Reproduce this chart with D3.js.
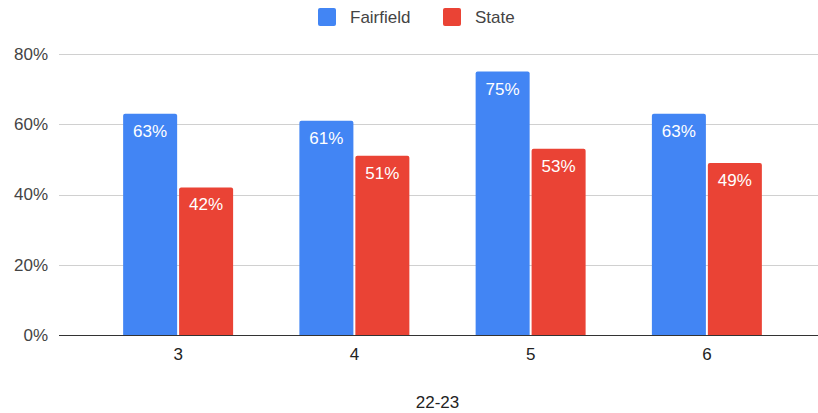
<!DOCTYPE html>
<html>
<head>
<meta charset="utf-8">
<script src="https://cdn.jsdelivr.net/npm/d3@7"></script>
<style>
  html, body { margin: 0; padding: 0; background: #fff; }
  svg { display: block; font-family: "Liberation Sans", Arial, sans-serif; }
</style>
</head>
<body>
<svg id="chart" width="818" height="413"></svg>
<script>
// Grade levels and share of students meeting standard, 2022-23
const grades = ["3", "4", "5", "6"];
const seriesNames = ["Fairfield", "State"];
const fairfield = [0.63, 0.61, 0.75, 0.63];
const state = [0.42, 0.51, 0.53, 0.49];
const yTicks = [0, 0.2, 0.4, 0.6, 0.8];
const xTitle = "22-23";
const colors = ["#4285F4", "#EA4335"];
const FONT = "'Liberation Sans', Arial, sans-serif";

const rows = grades.map((g, i) => ({ grade: g, values: [fairfield[i], state[i]] }));

const svg = d3.select("#chart");
const plotLeft = 59, plotRight = 818, plotTop = 54, plotBottom = 335;

const x = d3.scaleBand().domain(grades).range([90, 795]).paddingInner(0.376).paddingOuter(0.188);
const xs = d3.scaleBand().domain(seriesNames).range([0, x.bandwidth()]).paddingInner(0.035);
const y = d3.scaleLinear().domain([0, 0.8]).range([plotBottom, plotTop]);

// horizontal gridlines
svg.append("g")
  .selectAll("line")
  .data(yTicks.filter(t => t > 0))
  .join("line")
  .attr("x1", plotLeft).attr("x2", plotRight)
  .attr("y1", d => Math.round(y(d)) + 0.5).attr("y2", d => Math.round(y(d)) + 0.5)
  .attr("stroke", "#d0d0d0").attr("stroke-width", 1);

// y-axis labels
const yAxis = d3.axisLeft(y).tickValues(yTicks).tickFormat(d3.format(".0%")).tickSize(0).tickPadding(0);
const yg = svg.append("g").attr("transform", "translate(48,0)").call(yAxis);
yg.select(".domain").remove();
yg.selectAll("text").attr("font-size", 17).attr("fill", "#444").attr("font-family", FONT);

// bars with rounded tops
function topRounded(x0, y0, w, h, r) {
  r = Math.min(r, h);
  return `M${x0},${y0 + h}V${y0 + r}Q${x0},${y0} ${x0 + r},${y0}H${x0 + w - r}Q${x0 + w},${y0} ${x0 + w},${y0 + r}V${y0 + h}Z`;
}

const groups = svg.append("g").selectAll("g")
  .data(rows).join("g")
  .attr("transform", d => `translate(${x(d.grade)},0)`);

const bars = groups.selectAll("g.bar")
  .data(d => d.values.map((v, i) => ({ name: seriesNames[i], value: v, i })))
  .join("g").attr("class", "bar");

bars.append("path")
  .attr("d", d => topRounded(xs(d.name), y(d.value), xs.bandwidth(), plotBottom - y(d.value), 2))
  .attr("fill", d => colors[d.i]);

bars.append("text")
  .attr("x", d => xs(d.name) + xs.bandwidth() / 2)
  .attr("y", d => y(d.value) + 23)
  .attr("text-anchor", "middle")
  .attr("font-size", 17)
  .attr("fill", "#fff")
  .text(d => d3.format(".0%")(d.value));

// baseline
svg.append("line")
  .attr("x1", plotLeft).attr("x2", plotRight)
  .attr("y1", plotBottom + 0.5).attr("y2", plotBottom + 0.5)
  .attr("stroke", "#333").attr("stroke-width", 1.2);

// x-axis labels
const xAxis = d3.axisBottom(x).tickSize(0).tickPadding(0);
const xg = svg.append("g").attr("transform", `translate(0,${plotBottom + 13})`).call(xAxis);
xg.select(".domain").remove();
xg.selectAll("text").attr("font-size", 17).attr("fill", "#222").attr("font-family", FONT);

svg.append("text")
  .attr("x", (plotLeft + plotRight) / 2 - 1).attr("y", 408)
  .attr("text-anchor", "middle").attr("font-size", 17).attr("fill", "#222")
  .text(xTitle);

// legend
const legendX = [318, 443];
const legend = svg.append("g").selectAll("g")
  .data(seriesNames).join("g")
  .attr("transform", (d, i) => `translate(${legendX[i]},8)`);
legend.append("rect").attr("width", 18).attr("height", 18).attr("rx", 2)
  .attr("fill", (d, i) => colors[i]);
legend.append("text").attr("x", 32).attr("y", 15)
  .attr("font-size", 17).attr("fill", "#444").text(d => d);
</script>
</body>
</html>
